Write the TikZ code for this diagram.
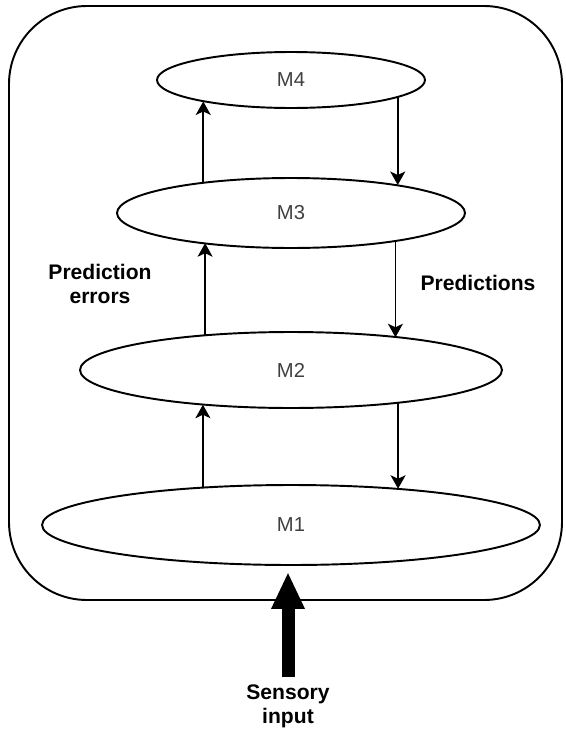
\documentclass[tikz,border=0pt]{standalone}
\usepackage{fontspec}
\setmainfont{Liberation Sans}
\usetikzlibrary{shapes.geometric,arrows.meta}

\begin{document}
\begin{tikzpicture}[x=0.02cm, y=-0.02cm,
   level/.style={draw, ellipse, line width=1.1pt, inner sep=0pt, outer sep=0pt,
      font=\fontsize{11.5}{14}\selectfont, text=black!75},
   arr/.style={line width=1pt, -{Stealth[length=0.27cm,width=0.3cm,inset=0.07cm]}},
   lbl/.style={font=\bfseries\fontsize{12}{14}\selectfont, align=center}]
   % Frame
   \useasboundingbox (0,0) rectangle (565,730);
   \draw[line width=1.1pt, rounded corners=1.56cm] (9,6) rectangle (562,600);

   % Levels of the hierarchy
   \node[level, minimum width=5.36cm, minimum height=1.12cm] (M4) at (291,80) {M4};
   \node[level, minimum width=6.96cm, minimum height=1.40cm] (M3) at (291,213) {M3};
   \node[level, minimum width=8.44cm, minimum height=1.52cm] (M2) at (291,370) {M2};
   \node[level, minimum width=9.96cm, minimum height=1.60cm] (M1) at (291,525) {M1};

   % Prediction errors (up)
   \draw[arr] (M1.157.23) -- (M1.157.23 |- M2.-158.84);
   \draw[arr] (M2.158.84) -- (M2.158.84 |- M3.-161.3);
   \draw[arr] (M3.161.3) -- (M3.161.3 |- M4.-166.8);

   % Predictions (down)
   \draw[arr] (M4.-9.66) -- (M4.-9.66 |- M3.15.1);
   \draw[arr] (M3.-15.1) -- (M3.-15.1 |- M2.17.63);
   \draw[arr] (M2.-17.63) -- (M2.-17.63 |- M1.19.27);

   % Labels
   \node[lbl] (errors) at (100,284) {Prediction\\errors};
   \node[lbl] (predictions) at (478,283) {Predictions};

   % Sensory input
   \node[lbl, font=\bfseries\fontsize{12}{13.6}\selectfont] (sensory) at (288,706) {Sensory\\input};
   \coordinate (inbase) at (288,677);
   \draw[line width=0.26cm, -{Triangle[length=0.74cm,width=0.62cm]}, shorten >=0.14cm]
      (inbase) -- (inbase |- M1.south);
\end{tikzpicture}
\end{document}
